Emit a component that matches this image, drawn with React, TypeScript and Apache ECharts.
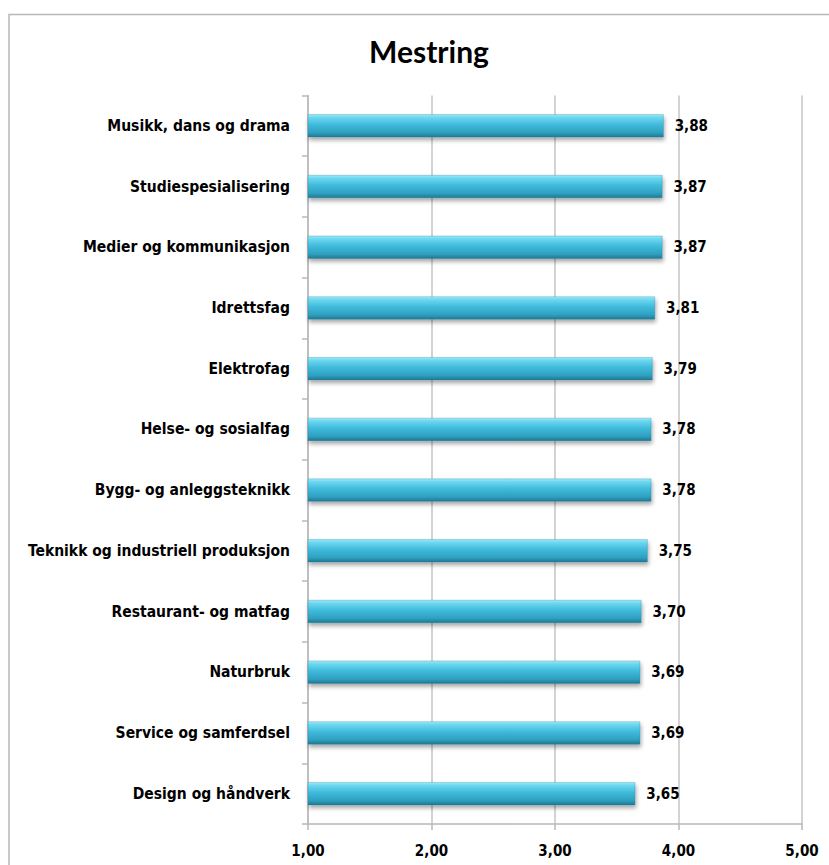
import React, { useEffect, useRef } from "react";
import * as echarts from "echarts";

const categories = [
  "Musikk, dans og drama",
  "Studiespesialisering",
  "Medier og kommunikasjon",
  "Idrettsfag",
  "Elektrofag",
  "Helse- og sosialfag",
  "Bygg- og anleggsteknikk",
  "Teknikk og industriell produksjon",
  "Restaurant- og matfag",
  "Naturbruk",
  "Service og samferdsel",
  "Design og håndverk",
];
const values = [3.88, 3.87, 3.87, 3.81, 3.79, 3.78, 3.78, 3.75, 3.7, 3.69, 3.69, 3.65];
const xMin = 1;
const xMax = 5;
const xStep = 1;
const title = "Mestring";

const fmt = (v: number) => v.toFixed(2).replace(".", ",");

export default function App() {
  const ref = useRef<HTMLDivElement>(null);
  useEffect(() => {
    if (!ref.current) return;
    const chart = echarts.init(ref.current, null, { renderer: "svg" });
    const titleFont = "Lato, 'Open Sans', sans-serif";
    const font = "'DejaVu Sans Condensed', 'DejaVu Sans', sans-serif";
    chart.setOption({
      animation: false,
      backgroundColor: "#ffffff",
      title: {
        text: title,
        left: 424,
        top: 31,
        textAlign: "center",
        textStyle: { fontFamily: titleFont, fontWeight: "bold", fontSize: 30, color: "#000" },
      },
      graphic: [
        {
          type: "rect",
          shape: { x: 9, y: 14.5, width: 900, height: 900 },
          style: { fill: "none", stroke: "#b8b8b8", lineWidth: 1.5 },
          silent: true,
        },
      ],
      grid: { left: 308, right: 27, top: 95.5, bottom: 41, containLabel: false },
      xAxis: {
        type: "value",
        min: xMin,
        max: xMax,
        interval: xStep,
        axisLine: { show: true, lineStyle: { color: "#b8b8b8", width: 1.5 } },
        axisTick: { show: true, length: 6, lineStyle: { color: "#b8b8b8", width: 1.5 } },
        splitLine: { show: true, lineStyle: { color: "#c4c4c4", width: 1.5 } },
        axisLabel: {
          formatter: (v: number) => fmt(v),
          fontFamily: font,
          fontWeight: "bold",
          fontSize: 15,
          color: "#000",
          margin: 19,
        },
      },
      yAxis: {
        type: "category",
        data: categories,
        inverse: true,
        axisLine: { show: true, lineStyle: { color: "#b8b8b8", width: 1.5 } },
        axisTick: { show: true, length: 6, lineStyle: { color: "#b8b8b8", width: 1.5 } },
        splitLine: { show: false },
        axisLabel: {
          fontFamily: font,
          fontWeight: "bold",
          fontSize: 15.5,
          color: "#000",
          margin: 18,
        },
      },
      series: [
        {
          type: "bar",
          data: values,
          barWidth: 23,
          itemStyle: {
            color: new echarts.graphic.LinearGradient(0, 0, 0, 1, [
              { offset: 0, color: "#9aecfb" },
              { offset: 0.12, color: "#6fd8f0" },
              { offset: 0.45, color: "#3fbadb" },
              { offset: 0.8, color: "#2fa0c0" },
              { offset: 1, color: "#1f7892" },
            ]),
            borderColor: "rgba(40,120,150,0.6)",
            borderWidth: 0.5,
            shadowColor: "rgba(0,0,0,0.35)",
            shadowBlur: 4,
            shadowOffsetY: 3,
            shadowOffsetX: 1,
          },
          label: {
            show: true,
            position: "right",
            distance: 11,
            formatter: (p: any) => fmt(p.value),
            fontFamily: font,
            fontWeight: "bold",
            fontSize: 15,
            color: "#000",
          },
        },
      ],
    });
    return () => chart.dispose();
  }, []);
  return (
    <div
      ref={ref}
      style={{ position: "fixed", left: 0, top: 0, width: 829, height: 865 }}
    />
  );
}
